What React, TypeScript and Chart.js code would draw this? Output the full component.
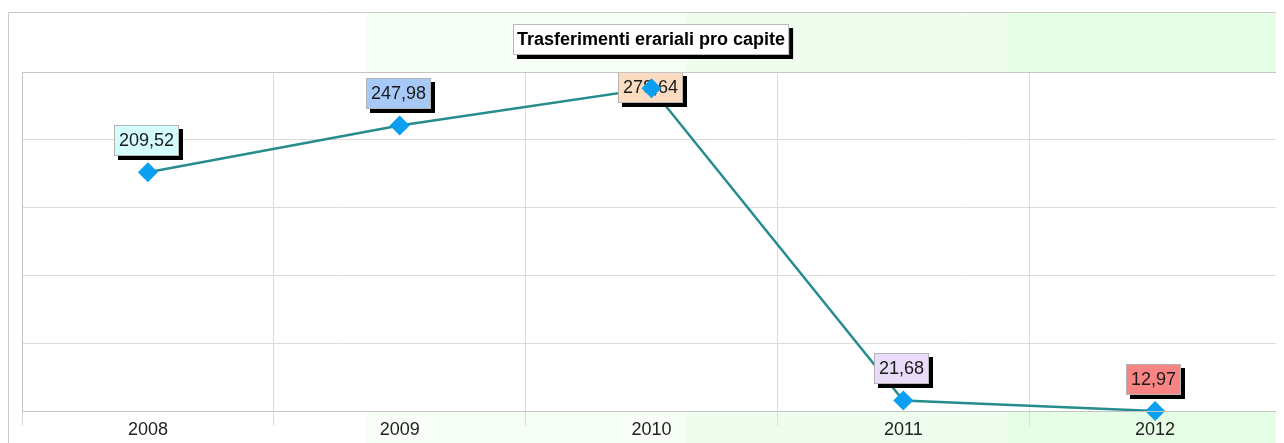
import React, { useEffect, useRef } from "react";
import { Chart, registerables } from "chart.js";

Chart.register(...registerables);

const years = ["2008", "2009", "2010", "2011", "2012"];
const values = [209.52, 247.98, 278.64, 21.68, 12.97];
const labelColors = ["#d4fcfc", "#a6c9f8", "#fbdcc0", "#e8dcf8", "#f88484"];
const titleText = "Trasferimenti erariali pro capite";
const yMin = 12.97;
const yMax = 292;
const gridCount = 5;

const FONT = "'Liberation Sans', Arial, sans-serif";

const fmt = (v: number) => v.toFixed(2).replace(".", ",");

const bgPlugin = {
  id: "bgPlugin",
  beforeDraw(chart: any) {
    const { ctx, width, height, chartArea } = chart;
    ctx.save();
    ctx.fillStyle = "#ffffff";
    ctx.fillRect(0, 0, width, height);
    const bands = [
      { x: 0, c: "#ffffff" },
      { x: 359, c: "#f6fef6" },
      { x: 679, c: "#eefdee" },
      { x: 999, c: "#e6fde6" },
    ];
    for (let i = 0; i < bands.length; i++) {
      const x0 = bands[i].x;
      const x1 = i + 1 < bands.length ? bands[i + 1].x : width;
      ctx.fillStyle = bands[i].c;
      ctx.fillRect(x0, 4, x1 - x0, height - 4);
    }
    ctx.strokeStyle = "#c8c8c8";
    ctx.lineWidth = 1;
    ctx.beginPath();
    ctx.moveTo(0.5, height + 5);
    ctx.lineTo(0.5, 4.5);
    ctx.lineTo(width, 4.5);
    ctx.stroke();
    ctx.fillStyle = "#ffffff";
    ctx.fillRect(chartArea.left, chartArea.top, chartArea.right - chartArea.left, chartArea.bottom - chartArea.top);
    ctx.restore();
  },
  afterDraw(chart: any) {
    const { ctx, chartArea } = chart;
    ctx.save();
    ctx.strokeStyle = "#c4c4c4";
    ctx.lineWidth = 1;
    ctx.strokeRect(chartArea.left + 0.5, chartArea.top + 0.5, chartArea.right - chartArea.left - 1, chartArea.bottom - chartArea.top);
    ctx.font = `bold 18px ${FONT}`;
    const tw = ctx.measureText(titleText).width;
    const bw = tw + 8;
    const bh = 31;
    const cx = (chartArea.left + chartArea.right) / 2;
    const bx = Math.round(cx - bw / 2);
    const by = 16;
    ctx.fillStyle = "#000";
    ctx.fillRect(bx + 4, by + 4, bw, bh);
    ctx.fillStyle = "#ffffff";
    ctx.fillRect(bx, by, bw, bh);
    ctx.strokeStyle = "#b8b8b8";
    ctx.strokeRect(bx + 0.5, by + 0.5, bw - 1, bh - 1);
    ctx.fillStyle = "#000";
    ctx.textAlign = "center";
    ctx.textBaseline = "middle";
    ctx.fillText(titleText, bx + bw / 2, by + bh / 2 + 1);
    ctx.restore();
  },
};

const labelPlugin = {
  id: "labelPlugin",
  afterDatasetDraw(chart: any, args: any) {
    if (args.index !== 0) return;
    const { ctx, chartArea } = chart;
    const meta = chart.getDatasetMeta(0);
    ctx.save();
    ctx.font = `18px ${FONT}`;
    ctx.textAlign = "center";
    ctx.textBaseline = "middle";
    meta.data.forEach((pt: any, i: number) => {
      const text = fmt(values[i]);
      const tw = ctx.measureText(text).width;
      const bw = Math.round(tw + 10);
      const bh = 31;
      const bx = Math.round(pt.x - 1.5 - bw / 2);
      let by = Math.round(pt.y - 16 - bh);
      if (by < chartArea.top) by = chartArea.top;
      ctx.fillStyle = "#000";
      ctx.fillRect(bx + 4, by + 4, bw, bh);
      ctx.fillStyle = labelColors[i];
      ctx.fillRect(bx, by, bw, bh);
      ctx.strokeStyle = "#b4b4b4";
      ctx.lineWidth = 1;
      ctx.strokeRect(bx + 0.5, by + 0.5, bw - 1, bh - 1);
      ctx.fillStyle = "#1a1a1a";
      ctx.fillText(text, bx + bw / 2, by + bh / 2 + 1);
    });
    ctx.restore();
  },
};

export default function App() {
  const ref = useRef<HTMLCanvasElement>(null);
  useEffect(() => {
    if (!ref.current) return;
    const chart = new Chart(ref.current, {
      type: "line",
      data: {
        labels: years,
        datasets: [
          {
            data: values,
            borderColor: "#278c8c",
            borderWidth: 2.5,
            pointRadius: 0,
            fill: false,
            tension: 0,
            clip: false as any,
            order: 2,
          },
          {
            data: values,
            showLine: false,
            pointStyle: "rectRot",
            pointRadius: 10,
            pointBackgroundColor: "#0a9ff0",
            pointBorderColor: "#0a9ff0",
            pointBorderWidth: 0,
            clip: false as any,
            order: 1,
          },
        ],
      },
      options: {
        animation: false,
        responsive: false,
        devicePixelRatio: 1,
        layout: { autoPadding: false, padding: { left: 14, top: 64, right: 3, bottom: 0 } },
        plugins: {
          legend: { display: false },
          tooltip: { enabled: false },
          title: { display: false },
        },
        scales: {
          x: {
            type: "category",
            offset: true,
            grid: {
              offset: true,
              color: "#dcdcdc",
              tickColor: "#dcdcdc",
              tickLength: 15,
              drawTicks: true,
            },
            border: { color: "#c8c8c8" },
            ticks: {
              font: { size: 18, family: FONT },
              color: "#222",
              padding: -7,
              maxRotation: 0,
              autoSkip: false,
            },
            afterFit: (s: any) => {
              s.height = 32;
              s.paddingLeft = 0;
              s.paddingRight = 0;
            },
          },
          y: {
            min: yMin,
            max: yMax,
            ticks: { display: false },
            grid: { color: "#dcdcdc", drawTicks: false },
            border: { color: "#c8c8c8" },
            afterBuildTicks: (s: any) => {
              const t = [];
              for (let i = 0; i <= gridCount; i++) t.push({ value: yMin + ((yMax - yMin) * i) / gridCount });
              s.ticks = t;
            },
            afterFit: (s: any) => {
              s.width = 0;
              s.paddingTop = 0;
              s.paddingBottom = 0;
            },
          },
        },
      },
      plugins: [bgPlugin, labelPlugin],
    });
    return () => chart.destroy();
  }, []);
  return (
    <div style={{ width: 1276, height: 435 }}>
      <canvas ref={ref} width={1276} height={435} style={{ display: "block" }} />
    </div>
  );
}
